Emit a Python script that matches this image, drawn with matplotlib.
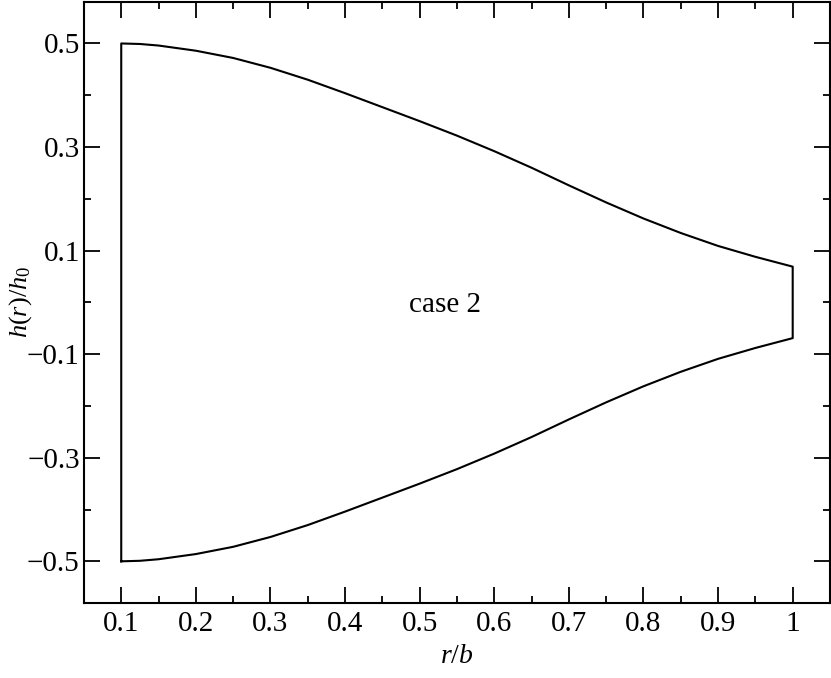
import numpy as np
import matplotlib
matplotlib.use('Agg')
import matplotlib.pyplot as plt
from matplotlib.ticker import MultipleLocator, FixedLocator

plt.rcParams['font.family'] = 'Liberation Serif'
plt.rcParams['mathtext.fontset'] = 'custom'
plt.rcParams['mathtext.rm'] = 'Liberation Serif'
plt.rcParams['mathtext.it'] = 'Liberation Serif:italic'

# upper profile h(r)/h0 (lower profile is its mirror)
r = [0.1, 0.125, 0.15, 0.2, 0.25, 0.3, 0.35, 0.4, 0.45, 0.5, 0.55, 0.6, 0.65,
     0.7, 0.75, 0.8, 0.85, 0.9, 0.95, 1.0]
h_upper = [0.5, 0.499, 0.496, 0.486, 0.472, 0.453, 0.430, 0.404, 0.377, 0.350,
           0.322, 0.292, 0.260, 0.226, 0.193, 0.162, 0.134, 0.109, 0.088, 0.069]
h_lower = [-v for v in h_upper]

x_ticks = [0.1, 0.2, 0.3, 0.4, 0.5, 0.6, 0.7, 0.8, 0.9, 1.0]
x_labels = ['0.1', '0.2', '0.3', '0.4', '0.5', '0.6', '0.7', '0.8', '0.9', '1']
y_ticks = [-0.5, -0.3, -0.1, 0.1, 0.3, 0.5]
y_labels = ['\u22120.5', '\u22120.3', '\u22120.1', '0.1', '0.3', '0.5']

fig = plt.figure(figsize=(8.31, 6.78), dpi=100)
ax = fig.add_axes([0.101, 0.111, 0.8978, 0.886])

# closed outline: left edge, upper curve, right edge, lower curve
xs = [r[0]] + r + [r[-1]] + r[::-1]
ys = [h_lower[0]] + h_upper + [h_lower[-1]] + h_lower[::-1]
ax.plot(xs, ys, color='black', lw=1.5, solid_joinstyle='round')

ax.text(0.534, -0.006, 'case 2', fontsize=21, ha='center', va='center')

ax.set_xlim(0.05, 1.05)
ax.set_ylim(-0.58, 0.58)
ax.xaxis.set_major_locator(FixedLocator(x_ticks))
ax.set_xticklabels(x_labels)
ax.xaxis.set_minor_locator(MultipleLocator(0.05))
ax.yaxis.set_major_locator(FixedLocator(y_ticks))
ax.set_yticklabels(y_labels)
ax.yaxis.set_minor_locator(FixedLocator([-0.4, -0.2, 0.0, 0.2, 0.4]))

ax.tick_params(which='both', direction='in', top=True, right=True,
               width=1.3, labelsize=21)
ax.tick_params(which='major', length=11.5)
ax.tick_params(which='minor', length=5)
ax.tick_params(axis='x', pad=6)
ax.tick_params(axis='y', pad=3)
for s in ax.spines.values():
    s.set_linewidth(1.5)

ax.set_xlabel(r'$r\mathrm{/}b$', fontsize=20, labelpad=5)
ax.set_ylabel(r'$h\mathrm{(}r\mathrm{)/}h_0$', fontsize=19)
ax.yaxis.set_label_coords(-0.067, 0.5)

fig.savefig('out.png', dpi=100)
